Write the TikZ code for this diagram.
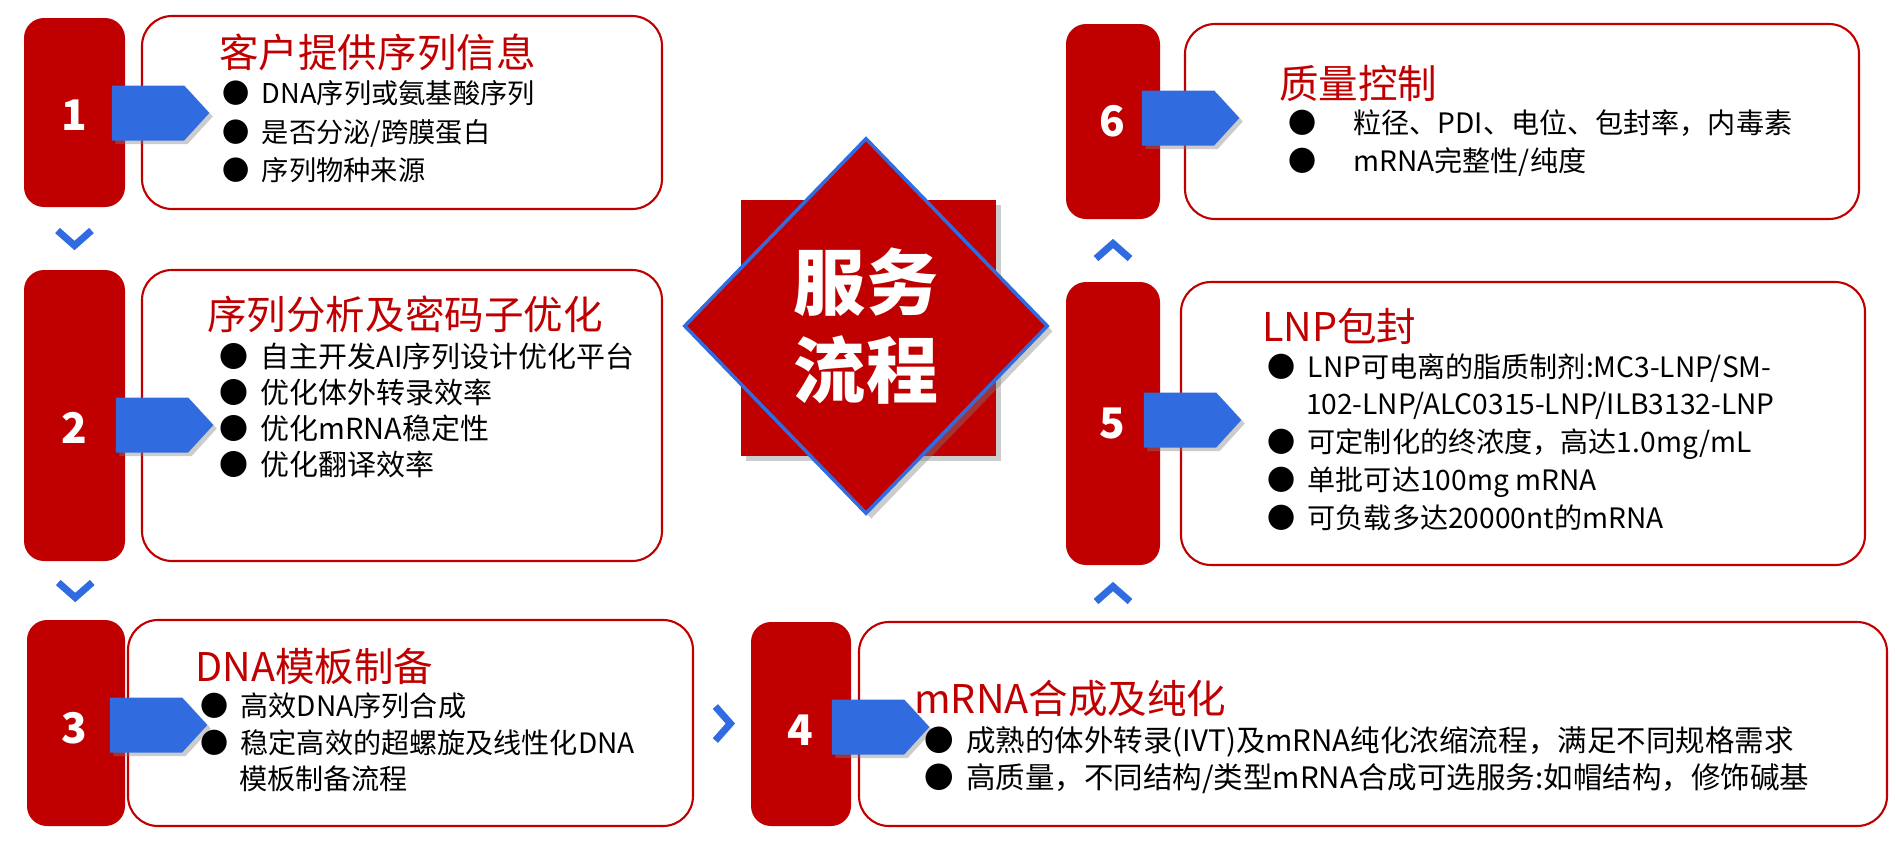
\documentclass[tikz,border=0pt]{standalone}
\usepackage{fontspec}
\setmainfont{Noto Sans CJK SC}
\usetikzlibrary{shapes.geometric, shapes.symbols, shadows, calc, fit, positioning}
\definecolor{stepRed}{RGB}{192, 0, 0}
\definecolor{arrowBlue}{RGB}{48, 108, 224}
\tikzset{
    % Red number tab and white step box
    tab/.style={rectangle, rounded corners=4mm, fill=stepRed, inner sep=0pt},
    stepBox/.style={rectangle, rounded corners=6mm, draw=stepRed, line width=1.2pt, fill=white, inner sep=0pt},
    % Texts
    stepNum/.style={font=\fontsize{24}{24}\selectfont\bfseries, text=white},
    stepTitle/.style={font=\fontsize{22.5}{22.5}\selectfont, text=stepRed, anchor=west, inner sep=0pt},
    stepText/.style={font=\fontsize{15.5}{22}\selectfont, align=left, anchor=north west, inner sep=0pt},
    % Blue pointer and chevrons
    pointer/.style={signal, signal to=east, signal pointer angle=95, fill=arrowBlue,
        minimum width=1.95cm, minimum height=1.1cm, inner sep=0pt,
        drop shadow={shadow xshift=2pt, shadow yshift=-2pt, opacity=0.4}},
    chev/.style={draw=arrowBlue, line width=4pt}
}
\newcommand{\bul}{●\hspace{7pt}}

\begin{document}
\begin{tikzpicture}[x=0.02cm, y=-0.02cm]
    \useasboundingbox (0,0) rectangle (1896,840);

    % --- Centre mark ---
    \node (sqr) [fit={(741,200)(996,456)}, fill=stepRed, inner sep=0pt,
        drop shadow={shadow xshift=3pt, shadow yshift=-3pt, opacity=0.4}] {};
    \node (centre) [diamond, fill=stepRed, draw=arrowBlue, line width=2pt, inner sep=0pt,
        minimum width=7.28cm, minimum height=7.52cm, text=white,
        font=\fontsize{41}{50}\selectfont\bfseries, align=center,
        drop shadow={shadow xshift=3pt, shadow yshift=-3pt, opacity=0.4}]
        at (866,326) {服务\\流程};

    % --- Step 1 ---
    \node (tab1) [tab, fit={(24,18)(125,207)}] {};
    \node (box1) [stepBox, fit={(142,16)(662,209)}] {};
    \node (arr1) [pointer] at (148,113) {};
    \node (num1) [stepNum] at (74,115) {1};
    \node (tit1) [stepTitle] at (219,52) {客户提供序列信息};
    \node (txt1) [stepText] at (222,80) {\bul DNA序列或氨基酸序列\\ \bul 是否分泌/跨膜蛋白\\ \bul 序列物种来源};

    % --- Step 2 ---
    \node (tab2) [tab, fit={(24,270)(125,561)}] {};
    \node (box2) [stepBox, fit={(142,270)(662,561)}] {};
    \node (arr2) [pointer] at (152,425) {};
    \node (num2) [stepNum] at (74,428) {2};
    \node (tit2) [stepTitle] at (207,314) {序列分析及密码子优化};
    \node (txt2) [stepText, font=\fontsize{16.5}{20.5}\selectfont] at (219,343) {\bul 自主开发AI序列设计优化平台\\ \bul 优化体外转录效率\\ \bul 优化mRNA稳定性\\ \bul 优化翻译效率};

    % --- Step 3 ---
    \node (tab3) [tab, fit={(27,620)(125,826)}] {};
    \node (box3) [stepBox, fit={(128,620)(693,826)}] {};
    \node (arr3) [pointer] at (146,725) {};
    \node (num3) [stepNum] at (74,728) {3};
    \node (tit3) [stepTitle] at (195,666) {DNA模板制备};
    \node (txt3) [stepText, font=\fontsize{16}{21}\selectfont] at (200,692) {\bul 高效DNA序列合成\\ \bul 稳定高效的超螺旋及线性化DNA\\ \hspace{22pt}模板制备流程};

    % --- Step 4 ---
    \node (tab4) [tab, fit={(751,622)(851,826)}] {};
    \node (box4) [stepBox, fit={(859,622)(1887,826)}] {};
    \node (arr4) [pointer] at (868,727) {};
    \node (num4) [stepNum] at (800,730) {4};
    \node (tit4) [stepTitle] at (914,699) {mRNA合成及纯化};
    \node (txt4) [stepText, font=\fontsize{16.8}{21}\selectfont] at (924,726) {\bul 成熟的体外转录(IVT)及mRNA纯化浓缩流程，满足不同规格需求\\ \bul 高质量，不同结构/类型mRNA合成可选服务:如帽结构，修饰碱基};

    % --- Step 5 ---
    \node (tab5) [tab, fit={(1066,282)(1160,565)}] {};
    \node (box5) [stepBox, fit={(1181,282)(1865,565)}] {};
    \node (arr5) [pointer] at (1180,420) {};
    \node (num5) [stepNum] at (1112,423) {5};
    \node (tit5) [stepTitle] at (1262,326) {LNP包封};
    \node (txt5) [stepText, font=\fontsize{16}{21.5}\selectfont] at (1267,353) {\bul LNP可电离的脂质制剂:MC3-LNP/SM-\\ \hspace{22pt}102-LNP/ALC0315-LNP/ILB3132-LNP\\ \bul 可定制化的终浓度，高达1.0mg/mL\\ \bul 单批可达100mg mRNA\\ \bul 可负载多达20000nt的mRNA};

    % --- Step 6 ---
    \node (tab6) [tab, fit={(1066,24)(1160,219)}] {};
    \node (box6) [stepBox, fit={(1185,24)(1859,219)}] {};
    \node (arr6) [pointer] at (1178,118) {};
    \node (num6) [stepNum] at (1112,121) {6};
    \node (tit6) [stepTitle] at (1279,83) {质量控制};
    \node (txt6) [stepText, font=\fontsize{16}{22}\selectfont] at (1288,109) {\bul\hspace{14pt}粒径、PDI、电位、包封率，内毒素\\ \bul\hspace{14pt}mRNA完整性/纯度};

    % --- Chevrons between steps ---
    \coordinate (c12) at ($(tab1.south)!0.5!(tab2.north)$);
    \coordinate (c23) at ($(tab2.south)!0.5!(tab3.north)$);
    \coordinate (c34) at ($(box3.east)!0.5!(tab4.west)$);
    \coordinate (c45) at ($(tab5.south)!0.5!(tab4.north-|tab5.south)$);
    \coordinate (c56) at ($(tab6.south)!0.5!(tab5.north)$);
    \draw [chev] ([shift={(-17,-8)}]c12) -- ([shift={(0,7)}]c12) -- ([shift={(17,-8)}]c12);
    \draw [chev] ([shift={(-17,-8)}]c23) -- ([shift={(0,7)}]c23) -- ([shift={(17,-8)}]c23);
    \draw [chev] ([shift={(-7,-17)}]c34) -- ([shift={(8,0)}]c34) -- ([shift={(-7,17)}]c34);
    \draw [chev] ([shift={(-17,8)}]c45) -- ([shift={(0,-7)}]c45) -- ([shift={(17,8)}]c45);
    \draw [chev] ([shift={(-17,8)}]c56) -- ([shift={(0,-7)}]c56) -- ([shift={(17,8)}]c56);
\end{tikzpicture}
\end{document}
